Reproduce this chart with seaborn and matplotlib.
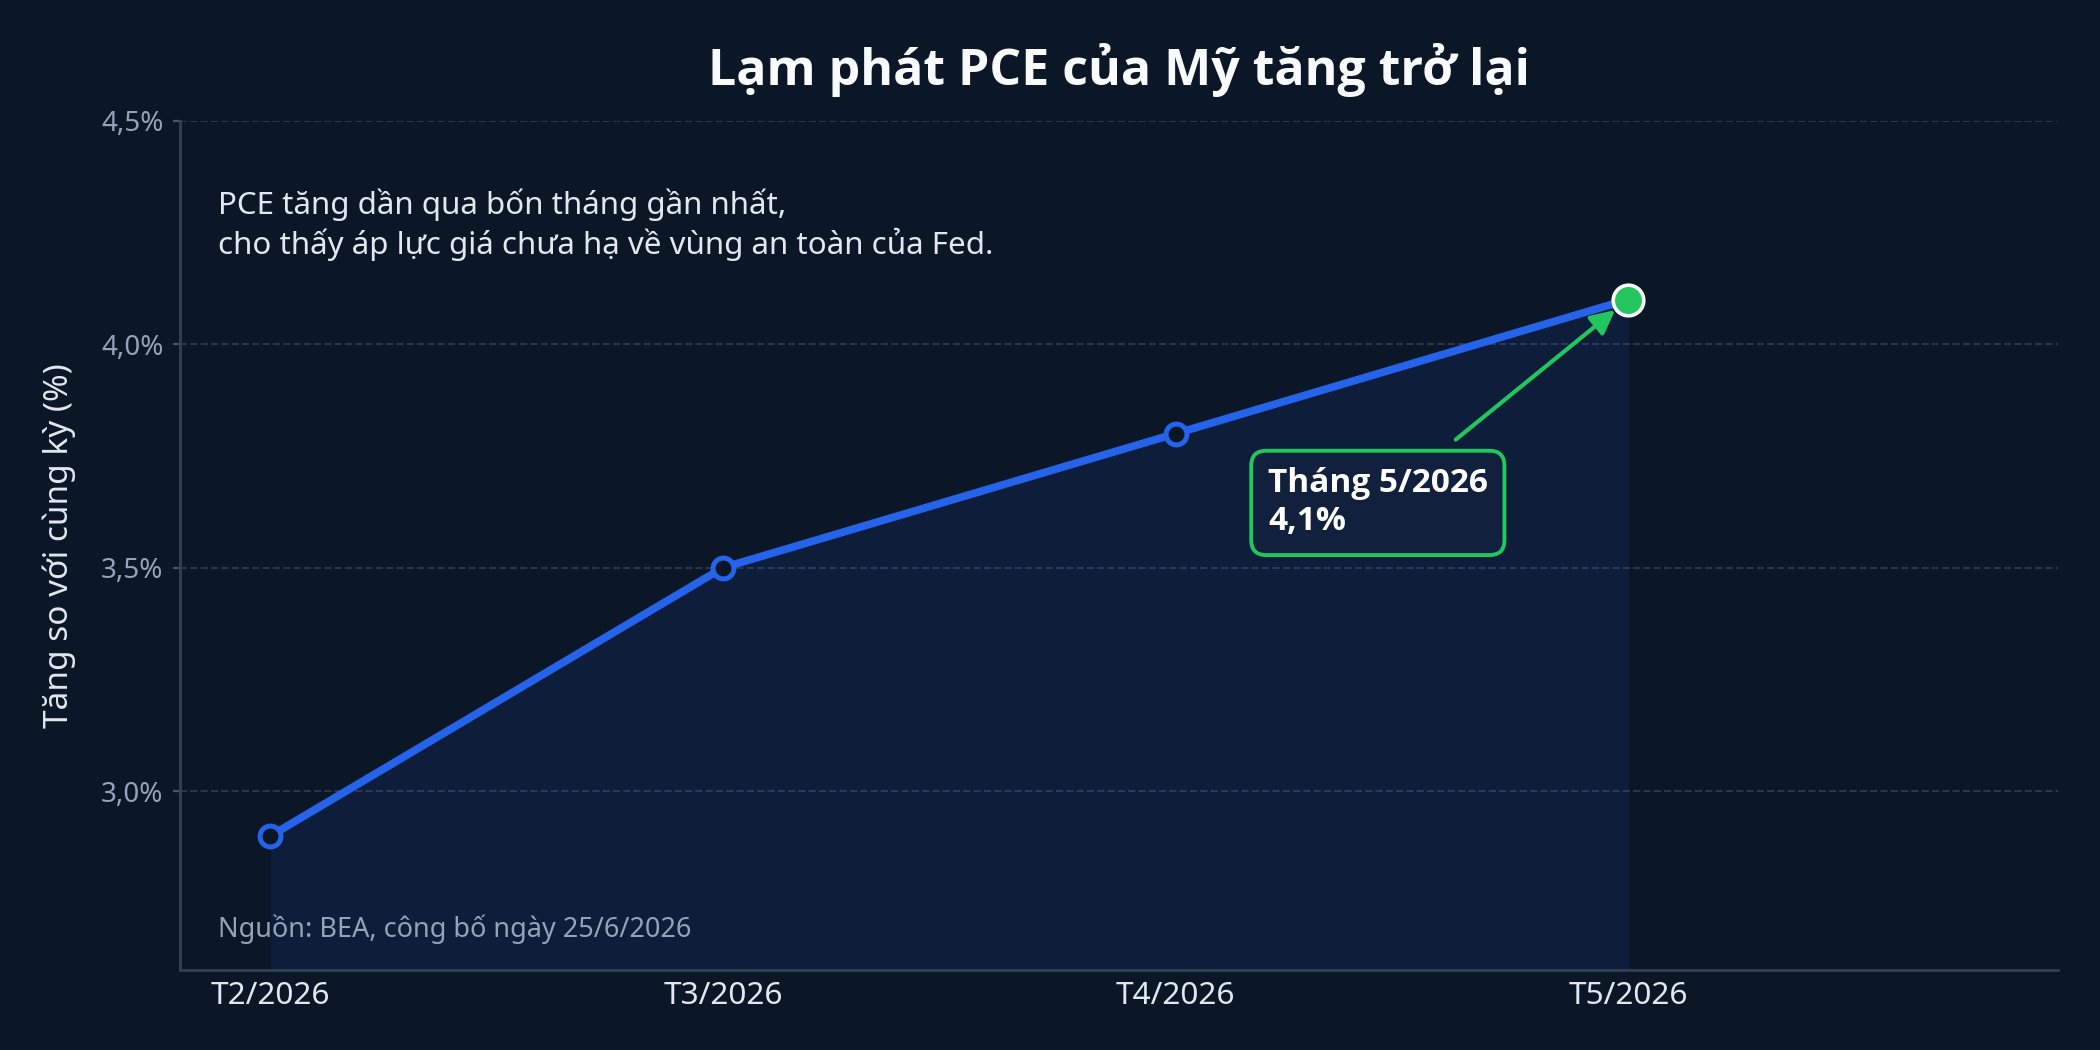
import matplotlib
matplotlib.use("Agg")
import matplotlib.pyplot as plt
from matplotlib import font_manager as fm
import seaborn as sns
import pandas as pd
from matplotlib.ticker import FuncFormatter

# ---- data ----
months = ["T2/2026", "T3/2026", "T4/2026", "T5/2026"]
pce_values = [2.9, 3.5, 3.8, 4.1]
y_ticks = [3.0, 3.5, 4.0, 4.5]

title = "Lạm phát PCE của Mỹ tăng trở lại"
subtitle_1 = "PCE tăng dần qua bốn tháng gần nhất,"
subtitle_2 = "cho thấy áp lực giá chưa hạ về vùng an toàn của Fed."
source = "Nguồn: BEA, công bố ngày 25/6/2026"
y_label = "Tăng so với cùng kỳ (%)"
callout = "Tháng 5/2026\n4,1%"

BG = "#0b1627"
BLUE = "#2563eb"
GREEN = "#22c55e"


def bold_family():
    for name in ["Noto Sans", "Open Sans", "Lato", "Roboto", "Inter", "DejaVu Sans"]:
        for f in fm.fontManager.ttflist:
            w = f.weight
            if isinstance(w, str):
                w = 700 if "bold" in w.lower() else 400
            if f.name == name and w >= 600:
                return name
    return "DejaVu Sans"


BOLD_FAM = [bold_family(), "DejaVu Sans"]

sns.set_theme(style="dark")
plt.rcParams["font.family"] = ["Noto Sans", "DejaVu Sans"]
plt.rcParams["axes.facecolor"] = BG
plt.rcParams["figure.facecolor"] = BG

df = pd.DataFrame({"pos": list(range(len(months))), "pce": pce_values})

fig, ax = plt.subplots(figsize=(10.5, 5.25), dpi=200)
fig.subplots_adjust(left=0.0857, right=0.98, bottom=0.0762, top=0.885)
ax.set_facecolor(BG)

ymin, ymax = 2.6, 4.5
ax.fill_between(df["pos"], df["pce"], ymin, color=BLUE, alpha=0.10, lw=0, zorder=1)

sns.lineplot(data=df, x="pos", y="pce", ax=ax, color=BLUE, lw=2.8,
             marker="o", markersize=7.5, markerfacecolor=BG,
             markeredgecolor=BLUE, markeredgewidth=1.8, zorder=3)

ax.plot(df["pos"].iloc[-1], df["pce"].iloc[-1], "o", ms=11, mfc=GREEN,
        mec="white", mew=1.3, zorder=5)

ax.set_xlim(-0.2, 3.95)
ax.set_ylim(ymin, ymax)
ax.set_xticks(df["pos"])
ax.set_xticklabels(months)
ax.set_yticks(y_ticks)
ax.yaxis.set_major_formatter(FuncFormatter(lambda v, p: f"{v:.1f}".replace(".", ",") + "%"))

ax.tick_params(axis="x", length=0, pad=4, labelsize=11.4, labelcolor="#e2e8f0")
ax.tick_params(axis="y", length=2.5, width=0.8, color="#475569", pad=3.5,
               labelsize=10, labelcolor="#94a3b8", left=True)

ax.grid(axis="y", color="#334155", linestyle="--", lw=0.7, alpha=0.8)
ax.grid(axis="x", visible=False)
for s in ["top", "right"]:
    ax.spines[s].set_visible(False)
for s in ["left", "bottom"]:
    ax.spines[s].set_visible(True)
    ax.spines[s].set_color("#334155")
    ax.spines[s].set_linewidth(1.0)

ax.set_xlabel("")
ax.set_ylabel(y_label, fontsize=12, color="#e2e8f0", labelpad=9)
ax.set_title(title, fontsize=18, fontweight="bold", color="#f8fafc", pad=13,
             family=BOLD_FAM)

ax.text(0.0202, 0.890, subtitle_1, transform=ax.transAxes, fontsize=11.25,
        color="#e2e8f0", ha="left", va="baseline")
ax.text(0.0202, 0.843, subtitle_2, transform=ax.transAxes, fontsize=11.25,
        color="#e2e8f0", ha="left", va="baseline")
ax.text(0.0202, 0.039, source, transform=ax.transAxes, fontsize=9.75,
        color="#94a3b8", ha="left", va="baseline")

ax.annotate(callout, xy=(df["pos"].iloc[-1], df["pce"].iloc[-1]),
            xytext=(2.447, 3.645), textcoords="data",
            ha="center", va="center", multialignment="left",
            fontsize=12, fontweight="bold", color="white", family=BOLD_FAM,
            bbox=dict(boxstyle="round,pad=0.5,rounding_size=0.45",
                      fc="#11213d", ec=GREEN, lw=1.4),
            arrowprops=dict(arrowstyle="-|>,head_length=0.6,head_width=0.3",
                            color=GREEN, lw=1.5, shrinkA=6, shrinkB=6),
            zorder=6)

fig.savefig("out.png", dpi=200, facecolor=BG)
